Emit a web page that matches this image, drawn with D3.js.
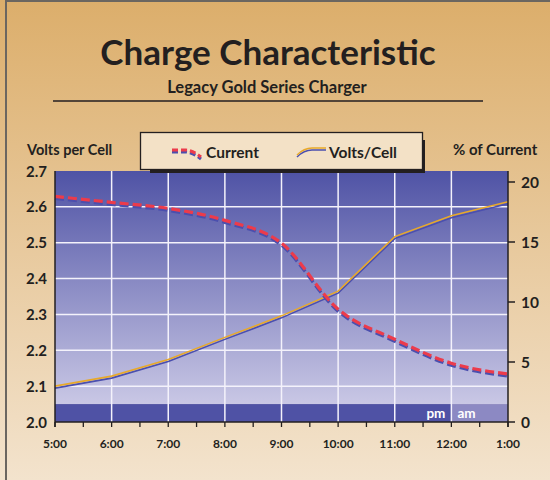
<!DOCTYPE html>
<html><head><meta charset="utf-8">
<script src="https://cdn.jsdelivr.net/npm/d3@7"></script>
<style>html,body{margin:0;padding:0;background:#fff}svg{display:block}text{font-family:Lato,"Open Sans",sans-serif;fill:#231f20}</style>
</head><body><svg id="c" width="550" height="480"></svg>
<script>
const hours = ["5:00","6:00","7:00","8:00","9:00","10:00","11:00","12:00","1:00"];
const current = [18.8, 18.3, 17.8, 16.8, 14.9, 9.4, 6.9, 4.9, 4.0];
const volts = [2.100, 2.128, 2.174, 2.236, 2.296, 2.365, 2.517, 2.575, 2.614];
const voltTicks = [2.0, 2.1, 2.2, 2.3, 2.4, 2.5, 2.6, 2.7];
const pctTicks = [0, 5, 10, 15, 20];

const svg = d3.select("#c");
const defs = svg.append("defs");
const bg = defs.append("linearGradient").attr("id","bg").attr("x1",0).attr("y1",0).attr("x2",0).attr("y2",1);
bg.append("stop").attr("offset","0%").attr("stop-color","#dcae6b");
bg.append("stop").attr("offset","100%").attr("stop-color","#f3e3cd");
const pg = defs.append("linearGradient").attr("id","pg").attr("x1",0).attr("y1",0).attr("x2",0).attr("y2",1);
pg.append("stop").attr("offset","0%").attr("stop-color","#4f53a5");
pg.append("stop").attr("offset","100%").attr("stop-color","#c9c7e5");

svg.append("rect").attr("width",550).attr("height",480).attr("fill","url(#bg)");
svg.append("line").attr("x1",6).attr("x2",6).attr("y1",0).attr("y2",480).attr("stroke","#6b6660").attr("stroke-width",2);
svg.append("line").attr("x1",6).attr("x2",550).attr("y1",1).attr("y2",1).attr("stroke","#6b6660").attr("stroke-width",2);

// titles
svg.append("text").attr("x",268).attr("y",65).attr("text-anchor","middle").attr("font-size",35).attr("font-weight","bold").text("Charge Characteristic");
svg.append("text").attr("x",267).attr("y",93).attr("text-anchor","middle").attr("font-size",16.5).attr("font-weight","bold").text("Legacy Gold Series Charger");
svg.append("line").attr("x1",53).attr("x2",483).attr("y1",101).attr("y2",101).attr("stroke","#231f20").attr("stroke-width",1.5);

const L = 55, R = 508, T = 171, B = 422;
const x = d3.scalePoint().domain(hours).range([L, R]);
const yV = d3.scaleLinear().domain([2.0, 2.7]).range([B, T]);
const yC = d3.scaleLinear().domain([0, 20]).range([B, B - 240]);

// plot background
svg.append("rect").attr("x",L).attr("y",T).attr("width",R-L).attr("height",yV(2.05)-T).attr("fill","url(#pg)");
svg.append("rect").attr("x",L).attr("y",yV(2.05)).attr("width",x("12:00")-L).attr("height",B-yV(2.05)).attr("fill","#4f52a5");
svg.append("rect").attr("x",x("12:00")).attr("y",yV(2.05)).attr("width",R-x("12:00")).attr("height",B-yV(2.05)).attr("fill","#8c89c3");
svg.append("text").attr("x",x("12:00")-6).attr("y",B-4).attr("text-anchor","end").attr("font-size",13.5).attr("font-weight","bold").style("fill","#fff").text("pm");
svg.append("text").attr("x",x("12:00")+6).attr("y",B-4).attr("font-size",13.5).attr("font-weight","bold").style("fill","#fff").text("am");

// grid
const grid = svg.append("g").attr("stroke","#f4f2fb").attr("stroke-width",1.5);
grid.selectAll("line.h").data(voltTicks.filter(v => v > 2.0 && v < 2.7)).join("line")
  .attr("x1",L).attr("x2",R).attr("y1",d=>yV(d)).attr("y2",d=>yV(d));
grid.selectAll("line.v").data(hours.slice(1,-1)).join("line")
  .attr("x1",d=>x(d)).attr("x2",d=>x(d)).attr("y1",T).attr("y2",B);

// lines
const lineV = d3.line().x((d,i)=>x(hours[i])).y(d=>yV(d));
const lineC = d3.line().x((d,i)=>x(hours[i])).y(d=>yC(d)).curve(d3.curveMonotoneX);
svg.append("path").attr("d",lineV(volts)).attr("transform","translate(0,2)").attr("fill","none").attr("stroke","#4b4fae").attr("stroke-width",1.6);
svg.append("path").attr("d",lineV(volts)).attr("fill","none").attr("stroke","#e8a92a").attr("stroke-width",1.6);
svg.append("path").attr("d",lineC(current)).attr("transform","translate(0,2)").attr("fill","none").attr("stroke","#4b4fae").attr("stroke-width",3.2).attr("stroke-dasharray","9,4");
svg.append("path").attr("d",lineC(current)).attr("fill","none").attr("stroke","#ec3b4b").attr("stroke-width",3.2).attr("stroke-dasharray","9,4");

// axes
svg.append("line").attr("x1",L).attr("x2",L).attr("y1",T).attr("y2",B+5).attr("stroke","#231f20").attr("stroke-width",1.5);
svg.append("line").attr("x1",L).attr("x2",R).attr("y1",B).attr("y2",B).attr("stroke","#231f20").attr("stroke-width",1.5);
svg.append("line").attr("x1",R).attr("x2",R).attr("y1",T).attr("y2",B+5).attr("stroke","#231f20").attr("stroke-width",1.5);

const xMinor = d3.scaleLinear().domain([0, hours.length-1]).range([L, R]);
svg.append("g").selectAll("line").data(d3.range(0, hours.length-0.5, 0.5)).join("line")
  .attr("x1",d=>xMinor(d)).attr("x2",d=>xMinor(d)).attr("y1",B).attr("y2",B+5).attr("stroke","#231f20").attr("stroke-width",1.3);
svg.append("g").selectAll("text").data(hours).join("text")
  .attr("x",d=>x(d)).attr("y",448).attr("text-anchor","middle").attr("font-size",12).attr("font-weight","bold").text(d=>d);

svg.append("g").selectAll("text").data(voltTicks).join("text")
  .attr("x",47).attr("y",d=>yV(d)+5.5).attr("text-anchor","end").attr("font-size",15).attr("font-weight","bold").text(d=>d.toFixed(1));

svg.append("g").selectAll("line").data(pctTicks).join("line")
  .attr("x1",R).attr("x2",R+7).attr("y1",d=>yC(d)).attr("y2",d=>yC(d)).attr("stroke","#231f20").attr("stroke-width",1.5);
svg.append("g").selectAll("text").data(pctTicks).join("text")
  .attr("x",521).attr("y",d=>yC(d)+5.5).attr("font-size",15.5).attr("font-weight","bold").text(d=>d);

svg.append("text").attr("x",27).attr("y",155).attr("font-size",14.5).attr("font-weight","bold").text("Volts per Cell");
svg.append("text").attr("x",453).attr("y",155).attr("font-size",15).attr("font-weight","bold").text("% of Current");

// legend
svg.append("rect").attr("x",150).attr("y",140).attr("width",275).attr("height",33).attr("fill","#231f20");
svg.append("rect").attr("x",140.5).attr("y",132.5).attr("width",282).attr("height",37).attr("fill","#f3e1c6").attr("stroke","#231f20").attr("stroke-width",1.3);
const iconC = "M172,150 L186,150 Q194,151 201,157";
svg.append("path").attr("d",iconC).attr("transform","translate(0,2)").attr("fill","none").attr("stroke","#4b4fae").attr("stroke-width",3).attr("stroke-dasharray","6,3");
svg.append("path").attr("d",iconC).attr("fill","none").attr("stroke","#ec3b4b").attr("stroke-width",3).attr("stroke-dasharray","6,3");
svg.append("text").attr("x",206).attr("y",158).attr("font-size",15.5).attr("font-weight","bold").text("Current");
const iconV = "M297,155 Q304,148 312,148 L326,148";
svg.append("path").attr("d",iconV).attr("transform","translate(0,2)").attr("fill","none").attr("stroke","#4b4fae").attr("stroke-width",1.5);
svg.append("path").attr("d",iconV).attr("fill","none").attr("stroke","#e8a92a").attr("stroke-width",1.5);
svg.append("text").attr("x",329).attr("y",158).attr("font-size",15.5).attr("font-weight","bold").text("Volts/Cell");
</script></body></html>
